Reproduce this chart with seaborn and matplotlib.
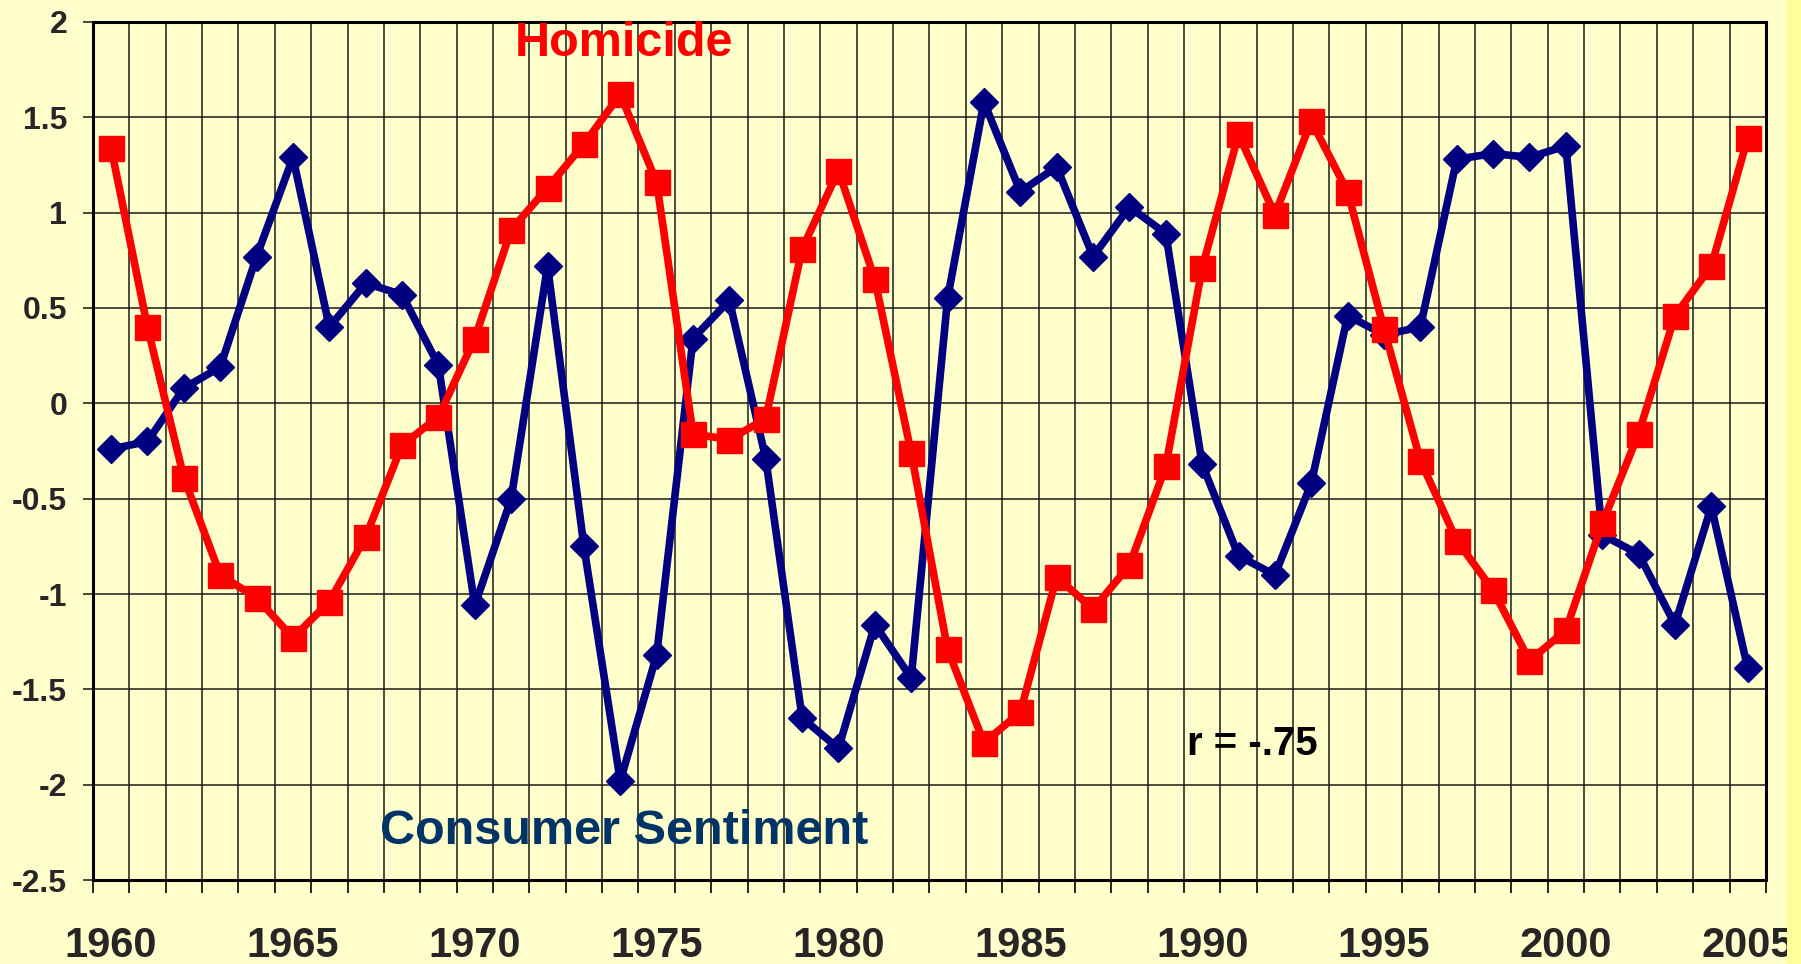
import numpy as np
import pandas as pd
import matplotlib
matplotlib.use("Agg")
import matplotlib.pyplot as plt
import seaborn as sns
from matplotlib.ticker import MultipleLocator

# standardized values, 1960-2005
years = list(range(1960, 2006))

consumer_sentiment = [
    -0.24, -0.20, 0.08, 0.19, 0.77, 1.29, 0.40, 0.63, 0.57, 0.20,
    -1.06, -0.50, 0.72, -0.75, -1.98, -1.32, 0.34, 0.54, -0.29, -1.65,
    -1.81, -1.16, -1.44, 0.55, 1.58, 1.11, 1.24, 0.77, 1.03, 0.89,
    -0.32, -0.80, -0.90, -0.42, 0.46, 0.36, 0.40, 1.28, 1.31, 1.29,
    1.35, -0.69, -0.79, -1.16, -0.54, -1.39,
]

homicide = [
    1.34, 0.40, -0.39, -0.90, -1.02, -1.23, -1.04, -0.70, -0.22, -0.07,
    0.34, 0.91, 1.13, 1.36, 1.62, 1.16, -0.16, -0.19, -0.08, 0.81,
    1.22, 0.65, -0.26, -1.29, -1.78, -1.62, -0.91, -1.08, -0.85, -0.33,
    0.71, 1.41, 0.99, 1.48, 1.11, 0.39, -0.30, -0.72, -0.98, -1.35,
    -1.19, -0.63, -0.16, 0.46, 0.72, 1.39,
]

year_labels = [1960, 1965, 1970, 1975, 1980, 1985, 1990, 1995, 2000, 2005]

df = pd.DataFrame({"Year": years,
                   "Consumer Sentiment": consumer_sentiment,
                   "Homicide": homicide})

sns.set_style("ticks")
plt.rcParams["font.family"] = ["Liberation Sans", "DejaVu Sans"]
plt.rcParams["font.weight"] = "bold"

bg = "#FFFFCC"
fig = plt.figure(figsize=(18.01, 9.64), dpi=100, facecolor=bg)
# slightly deeper yellow strip at the right edge of the slide
fig.patches.append(plt.Rectangle((0.992, 0), 0.008, 1, transform=fig.transFigure,
                                 facecolor="#FFFF99", edgecolor="none", zorder=0))
ax = fig.add_axes([0.0516, 0.0871, 0.9289, 0.8901])
ax.set_facecolor(bg)

sns.lineplot(data=df, x="Year", y="Consumer Sentiment", ax=ax, color="#000080",
             linewidth=5.5, marker="D", markersize=14, markeredgewidth=1,
             markeredgecolor="#000080", zorder=3)
sns.lineplot(data=df, x="Year", y="Homicide", ax=ax, color="#FF0000",
             linewidth=5.5, marker="s", markersize=18, markeredgewidth=1,
             markeredgecolor="#FF0000", zorder=4)

ax.set_xlim(1959.5, 2005.5)
ax.set_ylim(-2.5, 2)
ax.set_xticks(year_labels)
ax.set_xticklabels([str(y) for y in year_labels])
ax.xaxis.set_minor_locator(MultipleLocator(1, offset=0.5))
ax.yaxis.set_major_locator(MultipleLocator(0.5))
ax.set_yticklabels([f"{v:g}" for v in ax.get_yticks()])

ax.grid(which="minor", axis="x", color="#1a1a1a", linewidth=1.1)
ax.grid(which="major", axis="y", color="#1a1a1a", linewidth=1.1)
ax.set_axisbelow(True)

ax.tick_params(axis="x", which="major", length=0, pad=33, labelsize=30)
ax.tick_params(axis="x", which="minor", length=9.5, width=1.2, color="black")
ax.tick_params(axis="y", which="major", length=7.5, width=1.2, pad=11, labelsize=23)
for lab in ax.get_xticklabels() + ax.get_yticklabels():
    lab.set_fontweight("bold")

for side in ["left", "bottom", "top", "right"]:
    ax.spines[side].set_visible(True)
    ax.spines[side].set_linewidth(2.2)
    ax.spines[side].set_color("black")

ax.set_xlabel("")
ax.set_ylabel("")

ax.text(0.3174, 0.975, "Homicide", transform=ax.transAxes, color="#FF0000",
        fontsize=35, fontweight="bold", ha="center", va="center")
ax.text(0.3177, 0.056, "Consumer Sentiment", transform=ax.transAxes, color="#003366",
        fontsize=35, fontweight="bold", ha="center", va="center")
ax.text(0.6928, 0.158, "r = -.75", transform=ax.transAxes, color="black",
        fontsize=29, fontweight="bold", ha="center", va="center")

fig.savefig("out.png", dpi=100, facecolor=bg)
